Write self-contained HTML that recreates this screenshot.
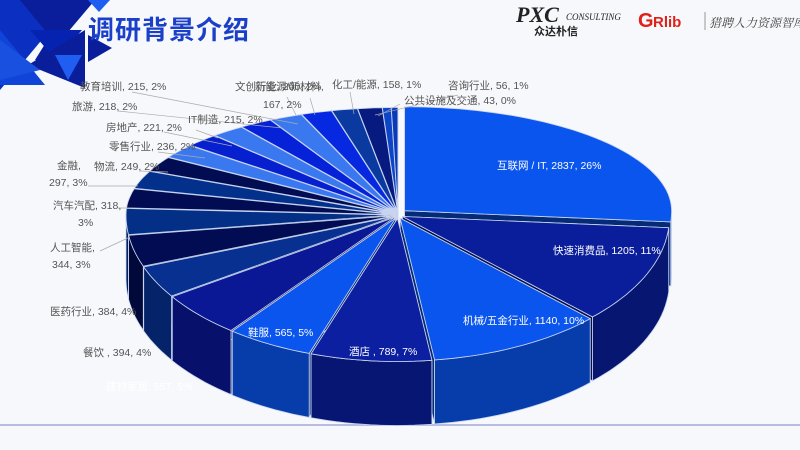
<!DOCTYPE html>
<html><head><meta charset="utf-8">
<style>
html,body{margin:0;padding:0;}
body{width:800px;height:450px;overflow:hidden;background:#f7f8fb;font-family:"Liberation Sans","Noto Sans CJK SC",sans-serif;position:relative;}
#title{position:absolute;left:88px;top:10px;font-size:26px;font-weight:bold;color:#1a3fc8;font-family:"Noto Sans CJK SC",sans-serif;letter-spacing:1px;}
svg{position:absolute;left:0;top:0;}
</style></head>
<body>
<svg id="deco" width="800" height="450">
  <polygon points="0,0 75,0 0,90" fill="#0b2fc0"/>
  <polygon points="20,0 95,0 57,45" fill="#0a1e9c"/>
  <polygon points="60,20 85,60 35,60" fill="#0a1e9c"/>
  <polygon points="0,30 45,85 0,85" fill="#1043d8"/>
  <polygon points="30,30 82,30 56,60" fill="#0622b0"/>
  <polygon points="28,65 85,30 85,88" fill="#0a1e9c"/>
  <polygon points="0,40 40,70 0,80" fill="#1a50e0"/>
  <polygon points="55,55 82,55 68,80" fill="#1f5ef0"/>
  <polygon points="88,35 112,48 88,62" fill="#0a1e9c"/>
  <polygon points="88,0 110,0 99,12" fill="#1f5ef0"/>
  <polygon points="42,52 52,52 47,60" fill="#0a1e9c"/>
  <line x1="0" y1="425" x2="800" y2="425" stroke="#b8bce0" stroke-width="2"/>
  <text x="516" y="22" font-family="Liberation Serif" font-style="italic" font-weight="bold" font-size="22" fill="#222">PXC</text>
  <text x="566" y="20" font-family="Liberation Serif" font-style="italic" font-size="9" fill="#222">CONSULTING</text>
  <text x="534" y="35" font-family="Noto Sans CJK SC" font-size="11" font-weight="bold" fill="#222">众达朴信</text>
  <text x="638" y="27" font-family="Liberation Sans" font-weight="bold" font-size="20" fill="#e0201a">G</text>
  <text x="653" y="27" font-family="Liberation Sans" font-weight="bold" font-size="15" fill="#e0201a">Rlib</text>
  <line x1="705" y1="12" x2="705" y2="30" stroke="#999"/>
  <text x="709" y="27" font-family="Noto Serif CJK SC" font-style="italic" font-size="12" fill="#444">猎聘人力资源智库</text>
</svg>
<div id="title">调研背景介绍</div>
<svg id="chart" width="800" height="450"></svg>
<script>
const cats=["互联网 / IT","快速消费品","机械/五金行业","酒店","鞋服","建材家居","餐饮","医药行业","人工智能","汽车汽配","金融","物流","零售行业","房地产","旅游","IT制造","教育培训","文创行业","新能源/新材料","化工/能源","咨询行业","公共设施及交通"];
const vals=[2837,1205,1140,789,565,557,394,384,344,318,297,249,236,221,218,215,215,200,167,158,56,43];
const pcts=["26%","11%","10%","7%","5%","5%","4%","4%","3%","3%","3%","2%","2%","2%","2%","2%","2%","2%","2%","1%","1%","0%"];
const colors=["#0a55ee","#0a1e9c","#0a55ee","#0b1fa0","#0a55ee","#0a1896","#073090","#020c52","#032f86","#020c52","#03308a","#020c52","#3a78f0","#0620d0","#3a78f0","#0622d8","#3a78f0","#0628e0","#0a3aa0","#061a80","#0c45c8","#0a3ab8"];
const lab=[[497,169,"#fff"],[553,254,"#fff"],[463,324,"#fff"],[349,355,"#fff"],[248,336,"#fff"],[106,390,"#fff"],[83,356,"#555"],[50,315,"#555"],[50,251,"#555"],[53,209,"#555"],[57,169,"#555"],[94,170,"#555"],[109,150,"#555"],[106,131,"#555"],[72,110,"#555"],[188,123,"#555"],[80,90,"#555"],[235,90,"#555"],[255,90,"#555"],[332,88,"#555"],[448,89,"#555"],[404,104,"#555"]];
const cx=398,cy=215,rx=267,ryTop=104,ryBot=143,depth=64;
const svg=document.getElementById('chart');
const NS="http://www.w3.org/2000/svg";
const total=vals.reduce((a,b)=>a+b,0);
function ang(v){return -90+v/total*360;}
function pt(a,ox,oy,dz){const r=a*Math.PI/180;const s=Math.sin(r);return [cx+ox+rx*Math.cos(r),cy+oy+(s<0?ryTop:ryBot)*s+(dz||0)];}
function shade(hex,f){const n=parseInt(hex.slice(1),16);const r=Math.round(((n>>16)&255)*f),g=Math.round(((n>>8)&255)*f),b=Math.round((n&255)*f);return "rgb("+r+","+g+","+b+")";}
const slices=[];let acc=0;
for(let i=0;i<vals.length;i++){const a0=ang(acc);acc+=vals[i];const a1=ang(acc);const m=(a0+a1)/2*Math.PI/180;const e=i===0?9:5;slices.push({i,a0,a1,ox:e*Math.cos(m),oy:e*Math.sin(m)*0.7,mid:Math.sin(m)});}
function arcPts(a0,a1,ox,oy,dz){const p=[];const n=Math.max(2,Math.ceil((a1-a0)/2));for(let k=0;k<=n;k++){p.push(pt(a0+(a1-a0)*k/n,ox,oy,dz));}return p;}
function poly(pts,fill,name){const el=document.createElementNS(NS,'path');el.setAttribute('d','M'+pts.map(p=>p[0].toFixed(1)+','+p[1].toFixed(1)).join('L')+'Z');el.setAttribute('fill',fill);el.setAttribute('stroke','#c8d4f0');el.setAttribute('stroke-width','0.8');


svg.appendChild(el);}
const order=[...slices].sort((a,b)=>a.mid-b.mid);
order.forEach(s=>{const c=[cx+s.ox,cy+s.oy];const sc=shade(colors[s.i],0.72);
 [s.a0,s.a1].forEach(a=>{const p=pt(a,s.ox,s.oy);poly([c,p,[p[0],p[1]+depth],[c[0],c[1]+depth]],shade(colors[s.i],0.5),'slice-wall-'+s.i);});
 const lo=Math.max(s.a0,0),hi=Math.min(s.a1,180);
 if(hi>lo){const top=arcPts(lo,hi,s.ox,s.oy,0);const bot=arcPts(lo,hi,s.ox,s.oy,depth).reverse();poly(top.concat(bot),sc,'slice-side-'+s.i);}
});
slices.forEach(s=>{const c=[cx+s.ox,cy+s.oy];poly([c].concat(arcPts(s.a0,s.a1,s.ox,s.oy,0)),colors[s.i],'slice-'+s.i);});
const leaders=[[132,92,298,124],[118,111,282,128],[196,130,218,138],[164,132,232,146],[158,152,205,158],[140,171,168,172],[88,186,138,186],[118,208,132,208],[100,251,130,237],[287,97,296,115],[310,98,315,115],[350,92,354,114],[458,95,375,115],[400,104,378,116]];
leaders.forEach(l=>{const e=document.createElementNS(NS,'line');e.setAttribute('x1',l[0]);e.setAttribute('y1',l[1]);e.setAttribute('x2',l[2]);e.setAttribute('y2',l[3]);e.setAttribute('stroke','#aaa');e.setAttribute('stroke-width','0.7');


svg.appendChild(e);});
function txt(x,y,s,col,name){const t=document.createElementNS(NS,'text');t.setAttribute('x',x);t.setAttribute('y',y);t.setAttribute('font-size','10.5');t.setAttribute('fill',col);t.textContent=s;


svg.appendChild(t);}
for(let i=0;i<cats.length;i++){const L=lab[i];let s=cats[i]+", "+vals[i]+", "+pcts[i];
 if(i===8){txt(50,251,cats[i]+",",L[2],'data-label-'+i);txt(52,268,vals[i]+", "+pcts[i],L[2],'data-label-'+i+'-b');continue;}
 if(i===9){txt(53,209,cats[i]+", "+vals[i]+",",L[2],'data-label-'+i);txt(78,226,pcts[i],L[2],'data-label-'+i+'-b');continue;}
 if(i===10){txt(57,169,cats[i]+",",L[2],'data-label-'+i);txt(49,186,vals[i]+", "+pcts[i],L[2],'data-label-'+i+'-b');continue;}
 if(i===18){txt(255,90,cats[i]+",",L[2],'data-label-'+i);txt(263,108,vals[i]+", "+pcts[i],L[2],'data-label-'+i+'-b');continue;}
 if(i===17){txt(235,90,cats[i]+", "+vals[i]+", "+pcts[i],L[2],'data-label-'+i);continue;}
 if(i===3||i===6)s=cats[i]+" , "+vals[i]+", "+pcts[i];
 txt(L[0],L[1],s,L[2],'data-label-'+i);}
</script>
</body></html>
